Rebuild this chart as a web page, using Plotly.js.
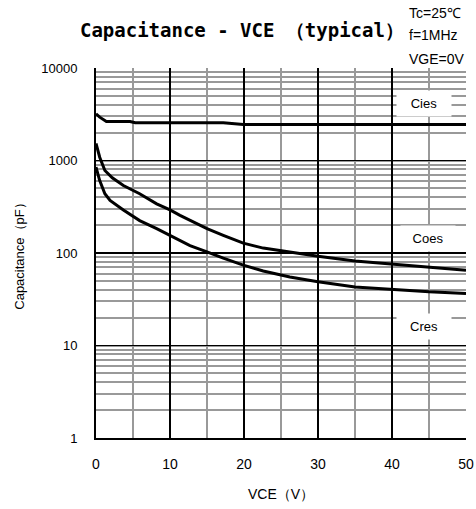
<!DOCTYPE html>
<html><head><meta charset="utf-8">
<script src="https://cdn.plot.ly/plotly-3.0.1.min.js"></script>
<style>html,body{margin:0;padding:0;background:#fff}</style>
</head><body>
<div id="chart" style="width:476px;height:509px"></div>
<script>
const ciesX = [0, 0.5, 1.4, 4.6, 5.3, 17.2, 19.9, 30, 40, 50];
const ciesY = [3200, 2940, 2640, 2640, 2560, 2560, 2450, 2450, 2450, 2450];
const coesX = [0, 0.5, 1.2, 2.2, 3.7, 5.9, 8.2, 10, 11.35, 12.7, 15, 17.2, 19.9, 22.6, 26.2, 30, 35, 40, 45, 50];
const coesY = [1530, 1085, 780, 650, 537, 437, 340, 292, 255, 224, 183, 155, 128, 113, 102, 92, 82, 76, 71, 65];
const cresX = [0, 0.5, 1.2, 1.9, 3.7, 5.9, 8.2, 10, 11.35, 12.7, 15, 17.2, 19.9, 22.6, 26.2, 30, 35, 40, 45, 50];
const cresY = [850, 607, 437, 370, 292, 224, 183, 155, 136, 120, 103, 88, 74, 64, 55, 49, 43, 40.5, 38, 36.5];
const labels = [
  {text: 'Cies', x: 44.3, y: 4100},
  {text: 'Coes', x: 44.8, y: 142},
  {text: 'Cres', x: 44.3, y: 16}
];
const xTicks = [0, 10, 20, 30, 40, 50];
const yTicks = [1, 10, 100, 1000, 10000];

const line = {color: '#000', width: 3};
const traces = [
  {x: ciesX, y: ciesY, mode: 'lines', line: line, name: 'Cies'},
  {x: coesX, y: coesY, mode: 'lines', line: line, name: 'Coes'},
  {x: cresX, y: cresY, mode: 'lines', line: line, name: 'Cres'}
];
const fontFam = 'Arial, "Liberation Sans", sans-serif';
const layout = {
  width: 476, height: 509,
  margin: {l: 96, r: 10, t: 68, b: 71},
  paper_bgcolor: '#fff', plot_bgcolor: '#fff',
  showlegend: false,
  font: {family: fontFam, size: 13, color: '#000'},
  title: {text: 'Capacitance - VCE （typical）', x: 0.168, xanchor: 'left', y: 0.941, yanchor: 'middle',
          font: {family: '"DejaVu Sans Mono", monospace', size: 19, weight: 'bold', color: '#000'}},
  xaxis: {
    range: [0, 50], tickvals: xTicks, ticktext: xTicks.map(String),
    showgrid: true, gridcolor: '#000', gridwidth: 1.2,
    minor: {dtick: 5, showgrid: true, gridcolor: '#999', gridwidth: 1.5},
    showline: true, linecolor: '#000', linewidth: 2, mirror: false,
    zeroline: false, ticks: '', ticklen: 0, ticklabelstandoff: 12,
    tickfont: {size: 14},
    title: {text: 'VCE（V）', font: {size: 14}, standoff: 18}
  },
  yaxis: {
    type: 'log', range: [0, 4], tickvals: yTicks, ticktext: yTicks.map(String),
    showgrid: true, gridcolor: '#000', gridwidth: 1.2,
    minor: {dtick: 'D1', showgrid: true, gridcolor: '#999', gridwidth: 2},
    showline: true, linecolor: '#000', linewidth: 2,
    zeroline: false, ticks: '', ticklen: 0, ticklabelstandoff: 14,
    tickfont: {size: 13},
    title: {text: 'Capacitance（pF）', font: {size: 13}, standoff: 14}
  },
  annotations: labels.map(l => ({
    text: l.text, x: l.x, y: Math.log10(l.y), xref: 'x', yref: 'y', showarrow: false,
    bgcolor: '#fff', borderpad: 5, font: {size: 13}, width: 44
  })).concat([
    {text: 'Tc=25℃', xref: 'paper', yref: 'paper', x: 0.84, y: 1.149, xanchor: 'left', yanchor: 'middle', showarrow: false, font: {size: 14}},
    {text: 'f=1MHz', xref: 'paper', yref: 'paper', x: 0.84, y: 1.089, xanchor: 'left', yanchor: 'middle', showarrow: false, font: {size: 14}},
    {text: 'VGE=0V', xref: 'paper', yref: 'paper', x: 0.84, y: 1.024, xanchor: 'left', yanchor: 'middle', showarrow: false, font: {size: 14}}
  ])
};
Plotly.newPlot('chart', traces, layout, {displayModeBar: false, staticPlot: true});
</script>
</body></html>
